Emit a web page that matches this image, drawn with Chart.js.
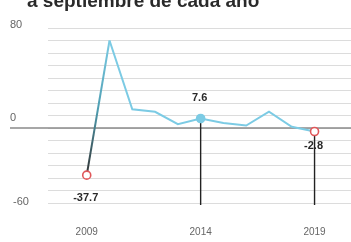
<!DOCTYPE html>
<html><head><meta charset="utf-8">
<script src="https://cdn.jsdelivr.net/npm/chart.js@4/dist/chart.umd.min.js"></script>
<style>html,body{margin:0;padding:0;background:#fff}#wrap{width:351px;height:242px;position:relative}</style>
</head><body><div id="wrap"><canvas id="c" width="351" height="242"></canvas></div>
<script>
const years = [2009, 2010, 2011, 2012, 2013, 2014, 2015, 2016, 2017, 2018, 2019];
const values = [-37.7, 70, 15, 13, 3, 7.6, 4, 2, 13, 1, -2.8];
const xTickValues = [2009, 2014, 2019];
const yTickValues = [80, 0, -60];
const yTickLabels = ['80', '0', '-60'];
const highlightYears = [2009, 2014, 2019];
const highlightLabels = ['-37.7', '7.6', '-2.8'];
const dropLineYears = [2014, 2019];
const titleText = 'a septiembre de cada año';

const LINE = '#7ccbe4';
const RED = '#e0575a';
const canvas = document.getElementById('c');
const c2d = canvas.getContext('2d');

const pointRadius = years.map(y => highlightYears.includes(y) ? 4 : 0);
const pointBg = years.map(y => y === 2014 ? LINE : '#ffffff');
const pointBorder = years.map(y => y === 2014 ? LINE : RED);

const labelOffsets = {2009: 23, 2014: -21, 2019: 14};

const extras = {
  id: 'extras',
  beforeDatasetsDraw(chart) {
    const ctx = chart.ctx, x = chart.scales.x, y = chart.scales.y;
    ctx.save();
    ctx.strokeStyle = '#8a8a8a';
    ctx.lineWidth = 1.6;
    ctx.beginPath();
    ctx.moveTo(10, y.getPixelForValue(0));
    ctx.lineTo(chart.width, y.getPixelForValue(0));
    ctx.stroke();
    ctx.strokeStyle = '#222';
    ctx.lineWidth = 1.4;
    dropLineYears.forEach(yr => {
      const v = values[years.indexOf(yr)];
      const px = x.getPixelForValue(yr);
      ctx.beginPath();
      ctx.moveTo(px, y.getPixelForValue(v));
      ctx.lineTo(px, y.getPixelForValue(-60) + 2);
      ctx.stroke();
    });
    ctx.restore();
  },
  afterDraw(chart) {
    const ctx = chart.ctx, x = chart.scales.x, y = chart.scales.y;
    ctx.save();
    ctx.fillStyle = '#666';
    ctx.font = '11px "Liberation Sans", Arial, sans-serif';
    ctx.textAlign = 'left';
    ctx.textBaseline = 'middle';
    const dy = {80: -3, 0: -10, '-60': -1};
    const dx = {80: 10, 0: 10, '-60': 13};
    yTickValues.forEach((v, i) => {
      ctx.fillText(yTickLabels[i], dx[v], y.getPixelForValue(v) + dy[v]);
    });
    ctx.fillStyle = '#2a2a2a';
    ctx.font = 'bold 11px "Liberation Sans", Arial, sans-serif';
    ctx.textAlign = 'center';
    highlightYears.forEach((yr, i) => {
      const v = values[years.indexOf(yr)];
      ctx.fillText(highlightLabels[i], x.getPixelForValue(yr) - 1, y.getPixelForValue(v) + labelOffsets[yr]);
    });
    ctx.fillStyle = '#2a2a2a';
    ctx.font = 'bold 19px "Liberation Sans", Arial, sans-serif';
    ctx.textAlign = 'left';
    ctx.textBaseline = 'alphabetic';
    ctx.fillText(titleText, 27, 7);
    ctx.restore();
  }
};

const chart = new Chart(canvas, {
  type: 'line',
  data: {
    datasets: [{
      data: years.map((yr, i) => ({x: yr, y: values[i]})),
      borderColor: LINE,
      borderWidth: 2,
      tension: 0,
      pointRadius: pointRadius,
      pointHoverRadius: pointRadius,
      pointBackgroundColor: pointBg,
      pointBorderColor: pointBorder,
      pointBorderWidth: 1.6,
      clip: false,
      segment: {
        borderColor: s => {
          if (s.p0DataIndex !== 0) return undefined;
          const g = c2d.createLinearGradient(0, s.p0.y, 0, s.p1.y);
          g.addColorStop(0, '#333333');
          g.addColorStop(0.5, '#4f9fb3');
          g.addColorStop(1, LINE);
          return g;
        }
      }
    }]
  },
  options: {
    responsive: false,
    animation: false,
    devicePixelRatio: 1,
    layout: {autoPadding: false, padding: {left: 48, top: 28, right: 0, bottom: 3}},
    plugins: {legend: {display: false}, tooltip: {enabled: false}, title: {display: false}},
    scales: {
      x: {
        type: 'linear',
        min: 2007.3,
        max: 2020.6,
        grid: {display: false, drawTicks: false},
        border: {display: false},
        afterBuildTicks: s => { s.ticks = xTickValues.map(v => ({value: v})); },
        afterFit: s => { s.height = 36; s.paddingLeft = 0; s.paddingRight = 0; },
        ticks: {
          padding: 23,
          color: '#666',
          font: {family: '"Liberation Sans", Arial, sans-serif', size: 10},
          callback: v => String(v),
          maxRotation: 0,
          autoSkip: false
        }
      },
      y: {
        min: -60,
        max: 80,
        afterFit: s => { s.width = 0; s.paddingTop = 0; s.paddingBottom = 0; },
        grid: {color: '#dcdcdc', lineWidth: 1, drawTicks: false},
        border: {display: false},
        ticks: {display: false, stepSize: 10}
      }
    }
  },
  plugins: [extras]
});
</script>
</body></html>
